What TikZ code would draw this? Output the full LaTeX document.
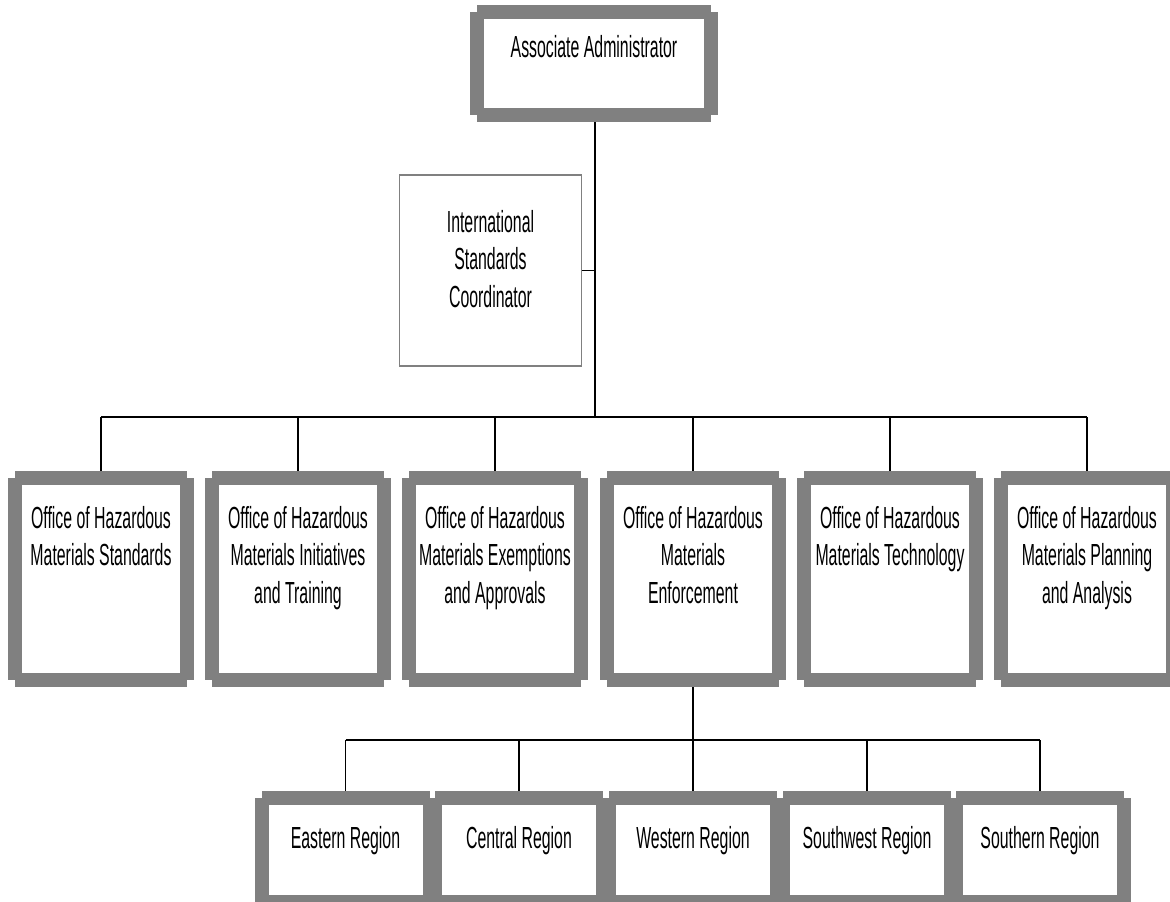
\documentclass[tikz,border=0pt]{standalone}
\usepackage{fontspec}
\setmainfont{Liberation Sans}[FakeStretch=0.52]
\definecolor{framegray}{HTML}{808080}
\newcommand{\topblock}[2]{\parbox[c][#1][t]{182pt}{\centering #2}}
\tikzset{
  orgfont/.style={font=\fontsize{30.5}{37.5}\selectfont},
  framed/.style={rectangle, inner sep=0pt, orgfont,
    path picture={
      \fill[framegray] ([xshift=7pt]path picture bounding box.north west) rectangle ([xshift=-7pt]path picture bounding box.south east);
      \fill[framegray] ([yshift=-7pt]path picture bounding box.north west) rectangle ([yshift=7pt]path picture bounding box.south east);
      \fill[white] ([shift={(14pt,-14pt)}]path picture bounding box.north west) rectangle ([shift={(-14pt,14pt)}]path picture bounding box.south east);
    }},
  office/.style={framed, minimum width=186pt, minimum height=216pt},
  region/.style={framed, minimum width=163pt, minimum height=118pt},
  head/.style={framed, minimum width=248pt, minimum height=117pt},
  coordbox/.style={rectangle, draw=framegray, line width=1.5pt, inner sep=0pt,
    minimum width=169pt, minimum height=191pt, orgfont},
  bus/.style={line width=2.5pt},
  drop/.style={line width=1.4pt},
}
\begin{document}
\begin{tikzpicture}[x=1pt,y=-1pt]
\useasboundingbox (0,0) rectangle (1170,902);
% nodes
\node[head] (aa) at (594,63.5) {\topblock{57pt}{Associate Administrator}};
\node[coordbox] (isc) at (490.5,270.5) {\topblock{121pt}{International\\Standards\\Coordinator}};
\node[office] (o1) at (101,579) {\topblock{146pt}{Office of Hazardous\\Materials Standards}};
\node[office] (o2) at (298,579) {\topblock{146pt}{Office of Hazardous\\Materials Initiatives\\and Training}};
\node[office] (o3) at (495,579) {\topblock{146pt}{Office of Hazardous\\Materials Exemptions\\and Approvals}};
\node[office] (o4) at (693,579) {\topblock{146pt}{Office of Hazardous\\Materials\\Enforcement}};
\node[office] (o5) at (890,579) {\topblock{146pt}{Office of Hazardous\\Materials Technology}};
\node[office] (o6) at (1087,579) {\topblock{146pt}{Office of Hazardous\\Materials Planning\\and Analysis}};
\node[region] (r1) at (345.5,850) {\topblock{48pt}{Eastern Region}};
\node[region] (r2) at (519,850) {\topblock{48pt}{Central Region}};
\node[region] (r3) at (693,850) {\topblock{48pt}{Western Region}};
\node[region] (r4) at (867,850) {\topblock{48pt}{Southwest Region}};
\node[region] (r5) at (1040,850) {\topblock{48pt}{Southern Region}};
\coordinate (j1) at (595,417);
\coordinate (j2) at (693,740);
% connectors
\draw[bus] (aa.south -| j1) -- (j1);
\draw[bus] (o1.north |- j1) -- (o6.north |- j1);
\draw[drop] (isc.east) -- (isc.east -| j1);
\foreach \o in {o1,o2,o3,o4,o5,o6} \draw[drop] (\o.north) -- (\o.north |- j1);
\draw[bus] (o4.south) -- (j2);
\draw[bus] (r1.north |- j2) -- (r5.north |- j2);
\foreach \r in {r1,r2,r3,r4,r5} \draw[drop] (\r.north) -- (\r.north |- j2);
\end{tikzpicture}
\end{document}
